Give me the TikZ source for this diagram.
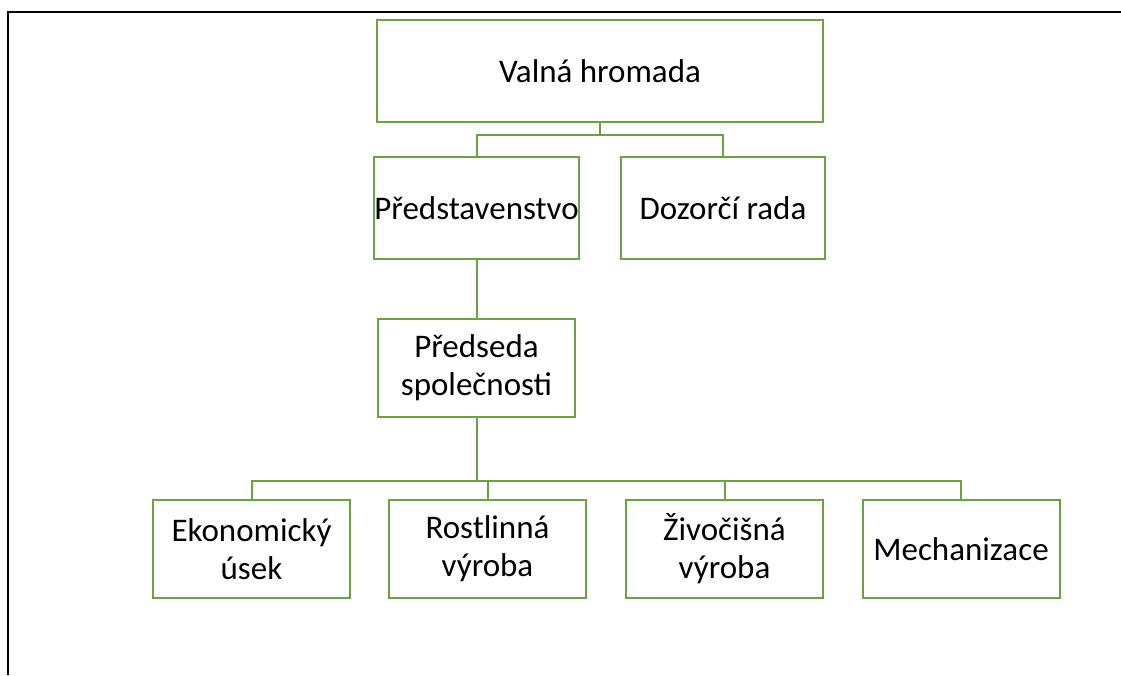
\documentclass[tikz,border=0pt]{standalone}
\usepackage{fontspec}
\setmainfont{Carlito}
\usetikzlibrary{positioning}
\definecolor{orggreen}{RGB}{106,164,66}
\tikzset{
  orgbox/.style={draw=orggreen, line width=2pt, rectangle, fill=white,
    align=center, font=\fontsize{33}{38}\selectfont, inner sep=0pt},
  link/.style={draw=orggreen, line width=2pt},
  frameline/.style={draw=black, line width=2.2pt}
}
\begin{document}
\begin{tikzpicture}[x=1pt,y=-1pt]
\useasboundingbox (0,0) rectangle (1121,675);
% outer frame (top and left edges)
\draw[frameline] (8,675) -- (8,12) -- (1121,12);

% boxes
\node[orgbox, minimum width=446pt, minimum height=102pt] (vh) at (600,71) {Valná hromada};
\node[orgbox, minimum width=203pt, minimum height=102pt] (pr) at (476.5,208) {Představenstvo};
\node[orgbox, minimum width=204pt, minimum height=102pt] (dr) at (723,208) {Dozorčí rada};
\node[orgbox, minimum width=197pt, minimum height=98pt] (ps) at (476.5,368) {Předseda\\společnosti};
\node[orgbox, minimum width=197pt, minimum height=98pt] (ek) at (251.5,549) {Ekonomický\\úsek};
\node[orgbox, minimum width=197pt, minimum height=98pt] (ro) at (487.5,549) {Rostlinná\\výroba};
\node[orgbox, minimum width=197pt, minimum height=98pt] (zi) at (724.5,549) {Živočišná\\výroba};
\node[orgbox, minimum width=197pt, minimum height=98pt] (me) at (961,549) {Mechanizace};

% connector junctions
\coordinate (bus1) at (600,135);
\coordinate (bus2) at (476.5,481);

% connectors
\draw[link] (vh.south) -- (bus1);
\draw[link] (bus1) -| (pr.north);
\draw[link] (bus1) -| (dr.north);
\draw[link] (pr.south) -- (ps.north);
\draw[link] (ps.south) -- (bus2);
\draw[link] (bus2) -| (ek.north);
\draw[link] (bus2) -| (ro.north);
\draw[link] (bus2) -| (zi.north);
\draw[link] (bus2) -| (me.north);
\end{tikzpicture}
\end{document}
